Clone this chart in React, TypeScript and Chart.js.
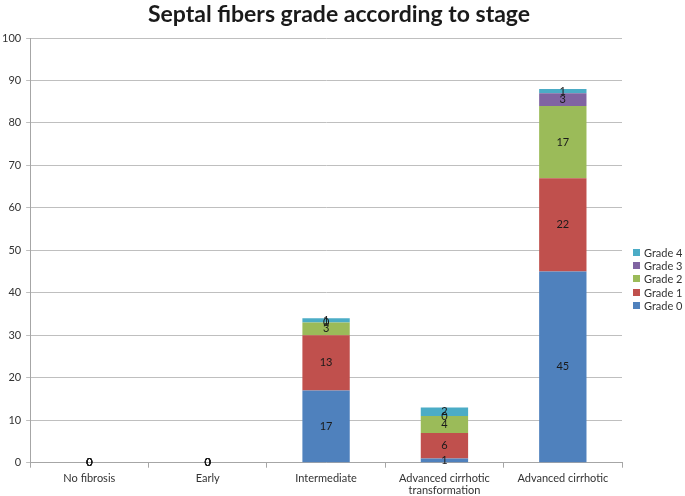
import React, { useEffect, useRef } from "react";
import { Chart, registerables } from "chart.js";

Chart.register(...registerables);

const categories: (string | string[])[] = [
  "No fibrosis",
  "Early",
  "Intermediate",
  ["Advanced cirrhotic", "transformation"],
  "Advanced cirrhotic",
];
const grade0 = [0, 0, 17, 1, 45];
const grade1 = [0, 0, 13, 6, 22];
const grade2 = [0, 0, 3, 4, 17];
const grade3 = [0, 0, 0, 0, 3];
const grade4 = [0, 0, 1, 2, 1];
const seriesNames = ["Grade 0", "Grade 1", "Grade 2", "Grade 3", "Grade 4"];
const seriesColors = ["#4F81BD", "#C0504D", "#9BBB59", "#8064A2", "#4BACC6"];
const yTicks = { min: 0, max: 100, step: 10 };
const title = "Septal fibers grade according to stage";

const FONT = "Lato, 'Open Sans', sans-serif";

const valueLabels = {
  id: "valueLabels",
  afterDatasetsDraw(chart: any) {
    const ctx = chart.ctx;
    ctx.save();
    ctx.font = `11px ${FONT}`;
    ctx.fillStyle = "#1a1a1a";
    ctx.textAlign = "center";
    ctx.textBaseline = "middle";
    chart.data.datasets.forEach((ds: any, i: number) => {
      const meta = chart.getDatasetMeta(i);
      meta.data.forEach((el: any, j: number) => {
        const v = ds.data[j];
        const y = (el.y + el.base) / 2;
        ctx.fillText(String(v), el.x, y);
      });
    });
    ctx.restore();
  },
};

export default function App() {
  const ref = useRef<HTMLCanvasElement>(null);
  useEffect(() => {
    if (!ref.current) return;
    const series = [grade0, grade1, grade2, grade3, grade4];
    const chart = new Chart(ref.current, {
      type: "bar",
      data: {
        labels: categories,
        datasets: series.map((d, i) => ({
          label: seriesNames[i],
          data: d,
          backgroundColor: seriesColors[i],
          borderWidth: 0,
          categoryPercentage: 1,
          barPercentage: 0.4,
        })),
      },
      options: {
        animation: false,
        responsive: false,
        layout: { padding: { left: -3, right: 63, top: 38, bottom: -5 } },
        plugins: {
          legend: { display: false },
          tooltip: { enabled: false },
          title: { display: false },
        },
        scales: {
          x: {
            stacked: true,
            grid: {
              display: true,
              drawOnChartArea: false,
              drawTicks: true,
              tickLength: 5,
              color: "#a6a6a6",
              offset: true,
            },
            border: { color: "#a6a6a6" },
            ticks: {
              color: "#333333",
              font: { family: FONT, size: 11, lineHeight: 1.15 },
              maxRotation: 0,
              autoSkip: false,
              padding: 4,
            },
          },
          y: {
            stacked: true,
            min: yTicks.min,
            max: yTicks.max,
            grid: { color: "#bfbfbf", tickLength: 4 },
            border: { color: "#a6a6a6" },
            ticks: {
              stepSize: yTicks.step,
              color: "#333333",
              font: { family: FONT, size: 11 },
              padding: 5,
            },
          },
        },
      },
      plugins: [valueLabels],
    });
    return () => chart.destroy();
  }, []);

  const legendOrder = [4, 3, 2, 1, 0];
  return (
    <div style={{ position: "absolute", left: 0, top: 0, width: 685, height: 496, background: "#fff", overflow: "hidden" }}>
      <canvas ref={ref} width={685} height={496} />
      <div
        style={{
          position: "absolute",
          left: 0,
          top: 0,
          width: 678,
          textAlign: "center",
          fontFamily: FONT,
          fontSize: 23,
          fontWeight: "bold",
          lineHeight: "27px",
          color: "#1a1a1a",
        }}
      >
        {title}
      </div>
      <div style={{ position: "absolute", left: 633, top: 246, fontFamily: FONT, fontSize: 11, color: "#333" }}>
        {legendOrder.map((i) => (
          <div key={i} style={{ display: "flex", alignItems: "center", height: 13.2 }}>
            <span style={{ display: "inline-block", width: 7, height: 7, background: seriesColors[i], marginRight: 4 }} />
            <span>{seriesNames[i]}</span>
          </div>
        ))}
      </div>
    </div>
  );
}
